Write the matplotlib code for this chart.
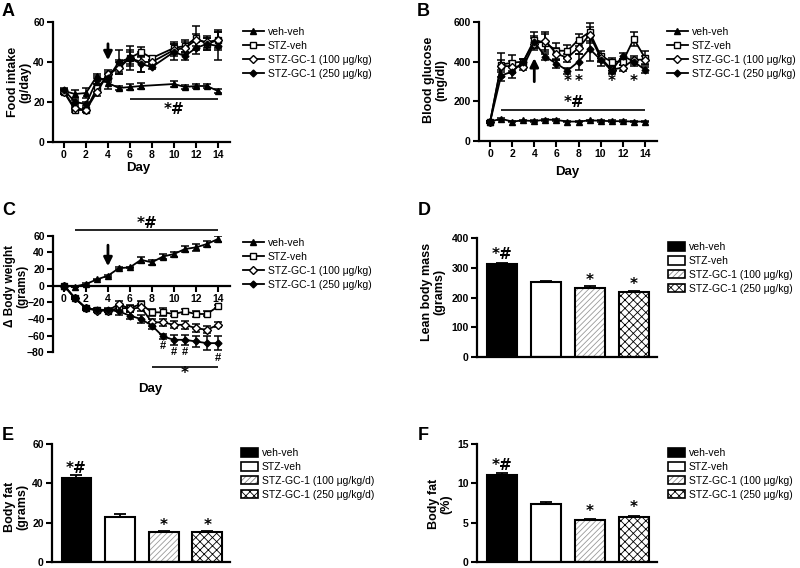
import matplotlib
matplotlib.use('Agg')
import matplotlib.pyplot as plt
from matplotlib.lines import Line2D
from matplotlib.patches import Patch

plt.rcParams['font.family'] = ['Liberation Sans', 'DejaVu Sans']
plt.rcParams['hatch.linewidth'] = 0.6

# ---- data ----
groups = ['veh-veh', 'STZ-veh', 'STZ-GC-1 (100 \u03bcg/kg)', 'STZ-GC-1 (250 \u03bcg/kg)']
groups_d = ['veh-veh', 'STZ-veh', 'STZ-GC-1 (100 \u03bcg/kg/d)', 'STZ-GC-1 (250 \u03bcg/kg/d)']

# A: food intake (g/day)
days_A = [0, 1, 2, 3, 4, 5, 6, 7, 8, 10, 11, 12, 13, 14]
days_A_veh = [0, 1, 2, 3, 4, 5, 6, 7, 10, 11, 12, 13, 14]
A_veh = [25.5, 24, 24.5, 33, 29.5, 27, 27.5, 28, 29, 27.5, 28, 28, 25.5]
A_veh_err = [1, 2, 2.5, 1, 3, 1, 1.5, 1.5, 1.5, 1, 1, 1, 1]
A_stz = [25, 16, 16, 27, 33, 38, 42, 45, 42, 47, 48, 52, 49, 51]
A_stz_err = [1, 1, 1, 2, 2, 3, 3, 2.5, 1, 3, 3, 6, 3, 5]
A_100 = [25, 17, 16, 25, 34, 37, 42, 40, 40, 46, 47, 51, 50, 51]
A_100_err = [1, 1, 1, 2, 2, 3, 4, 5, 1, 3, 3, 3, 3, 4]
A_250 = [26, 20, 19, 31, 32, 40, 42, 39, 37.5, 45, 43, 47, 49, 48]
A_250_err = [1, 1, 1, 2, 2, 6, 6, 4, 1, 4, 2, 3, 3, 7]

# B: blood glucose (mg/dl)
days_B = list(range(15))
B_veh = [98, 112, 98, 104, 100, 108, 106, 98, 98, 104, 102, 100, 100, 98, 98]
B_veh_err = [5, 5, 4, 4, 4, 5, 5, 4, 4, 4, 4, 4, 4, 4, 4]
B_stz = [95, 385, 395, 400, 510, 495, 455, 455, 510, 550, 430, 400, 400, 515, 420]
B_stz_err = [5, 60, 40, 15, 40, 45, 40, 30, 30, 45, 25, 20, 15, 35, 35]
B_100 = [95, 380, 375, 375, 490, 505, 440, 420, 470, 535, 420, 360, 370, 410, 410]
B_100_err = [5, 30, 30, 15, 30, 45, 30, 20, 30, 40, 20, 15, 15, 20, 20]
B_250 = [95, 330, 350, 400, 500, 425, 390, 355, 400, 465, 410, 355, 430, 400, 360]
B_250_err = [5, 30, 30, 15, 30, 15, 20, 15, 40, 60, 30, 15, 15, 20, 15]

# C: change in body weight (grams)
days_C = list(range(15))
C_veh = [0, -1, 2, 7.5, 12, 21, 22, 31, 28, 35, 38, 44, 46, 50, 56]
C_veh_err = [0, 0, 1, 1, 1, 1, 1, 4, 3, 3, 3, 4, 4, 4, 4]
C_stz = [0, -15, -27, -29, -30, -27, -27, -22, -32, -32, -34, -31, -34, -34, -25]
C_stz_err = [0, 1, 2, 2, 2, 3, 4, 3, 4, 5, 3, 3, 4, 3, 2]
C_100 = [0, -15, -27, -30, -30, -22, -28, -26, -44, -44, -47, -47, -51, -53, -47]
C_100_err = [0, 1, 2, 2, 2, 3, 4, 4, 4, 4, 4, 5, 5, 4, 3]
C_250 = [0, -15, -27, -29, -29, -31, -36, -40, -48, -61, -65, -65, -67, -69, -69]
C_250_err = [0, 1, 1, 1, 2, 4, 4, 5, 4, 3, 6, 6, 7, 8, 8]

# D-F: bar panels
D_vals = [312, 251, 232, 218]
D_err = [5, 4, 5, 5]
E_vals = [42.5, 23, 15.2, 15.3]
E_err = [1.8, 1.2, 0.5, 0.5]
F_vals = [11.0, 7.35, 5.3, 5.7]
F_err = [0.3, 0.3, 0.15, 0.2]
bar_marks = ['*#', '', '*', '*']

W, H = 800, 568
fig = plt.figure(figsize=(W / 100, H / 100), dpi=100)
MARK = dict(fontsize=11, fontweight='bold', family=['DejaVu Sans'])


def add_ax(l, t, r, b):
    return fig.add_axes([l / W, 1 - b / H, (r - l) / W, (b - t) / H])


def style(ax):
    ax.spines['top'].set_visible(False)
    ax.spines['right'].set_visible(False)
    for s in ['left', 'bottom']:
        ax.spines[s].set_linewidth(1.6)
    ax.tick_params(width=1.5, length=4, labelsize=7.5, pad=2)
    for lab in ax.get_xticklabels() + ax.get_yticklabels():
        lab.set_fontweight('bold')


line_styles = [
    dict(marker='^', mfc='black', ms=5),
    dict(marker='s', mfc='white', ms=4.5),
    dict(marker='D', mfc='white', ms=4.5),
    dict(marker='D', mfc='black', ms=3.5),
]


def line_panel(ax, xs, ys, errs):
    for x, y, e, st in zip(xs, ys, errs, line_styles):
        ax.errorbar(x, y, yerr=e, fmt='none', ecolor='black', elinewidth=1.1,
                    capsize=3, capthick=1.1)
    handles = []
    for x, y, st, lab in zip(xs, ys, line_styles, groups):
        ax.plot(x, y, color='black', lw=1.3, mec='black', mew=1, **st)
        handles.append(Line2D([], [], color='black', lw=1.3, mec='black', mew=1, **st))
    ax.set_xlim(-1, 15.1)
    ax.set_xticks(range(0, 15, 2))
    return handles


def line_legend(ax, handles, x, y):
    ax.legend(handles, groups, loc='upper left', bbox_to_anchor=(x / W, 1 - y / H),
              bbox_transform=fig.transFigure, frameon=False, fontsize=7.5,
              handlelength=2.0, labelspacing=0.38, handletextpad=0.4,
              borderpad=0, borderaxespad=0)


# ---- A ----
axA = add_ax(53, 22, 230, 142)
hA = line_panel(axA, [days_A_veh, days_A, days_A, days_A],
                [A_veh, A_stz, A_100, A_250],
                [A_veh_err, A_stz_err, A_100_err, A_250_err])
axA.set_ylim(0, 60)
axA.set_yticks([0, 20, 40, 60])
axA.annotate('', xy=(4, 39.5), xytext=(4, 50.5),
             arrowprops=dict(arrowstyle='-|>,head_width=0.25,head_length=0.5', lw=2, color='black'))
axA.hlines(21.3, 6, 14, color='black', lw=1.2)
axA.text(10, 16, '*#', ha='center', va='center', **MARK)
style(axA)
line_legend(axA, hA, 243, 27)

# ---- B ----
axB = add_ax(479, 22, 657, 141)
hB = line_panel(axB, [days_B] * 4, [B_veh, B_stz, B_100, B_250],
                [B_veh_err, B_stz_err, B_100_err, B_250_err])
axB.set_ylim(0, 600)
axB.set_yticks([0, 200, 400, 600])
axB.annotate('', xy=(4, 432), xytext=(4, 285),
             arrowprops=dict(arrowstyle='-|>,head_width=0.25,head_length=0.5', lw=2, color='black'))
axB.hlines(157, 1, 14, color='black', lw=1.2)
axB.text(7.6, 196, '*#', ha='center', va='center', **MARK)
for d in [7, 8, 11, 13]:
    axB.text(d, 300, '*', ha='center', va='center', **MARK)
style(axB)
line_legend(axB, hB, 667, 27)

# ---- C ----
axC = add_ax(53, 235.7, 230, 352.3)
hC = line_panel(axC, [days_C] * 4, [C_veh, C_stz, C_100, C_250],
                [C_veh_err, C_stz_err, C_100_err, C_250_err])
axC.set_ylim(-80, 60)
axC.set_yticks(range(-80, 61, 20))
axC.spines['bottom'].set_position(('data', 0))
axC.annotate('', xy=(4, 20), xytext=(4, 52),
             arrowprops=dict(arrowstyle='-|>,head_width=0.25,head_length=0.5', lw=2, color='black'))
axC.hlines(67, 1, 14, color='black', lw=1.2, clip_on=False)
axC.text(7.6, 75, '*#', ha='center', va='center', **MARK)
for d, yy in zip([9, 10, 11, 14], [-73, -80, -80, -87]):
    axC.text(d, yy, '#', ha='center', va='center', fontsize=8, fontweight='bold')
axC.hlines(-97.5, 8, 14, color='black', lw=1.2, clip_on=False)
axC.text(11, -106, '*', ha='center', va='center', **MARK)
style(axC)
line_legend(axC, hC, 243, 238)

fig.text(138 / W, 1 - 168 / H, 'Day', ha='center', va='center', fontsize=9.5, fontweight='bold')
fig.text(567 / W, 1 - 172 / H, 'Day', ha='center', va='center', fontsize=9.5, fontweight='bold')
fig.text(150 / W, 1 - 389 / H, 'Day', ha='center', va='center', fontsize=9.5, fontweight='bold')


# ---- bar panels ----
def bar_panel(ax, vals, errs, ymax, yticks, marks, mark_y, labels, lx, ly):
    xs = list(range(len(vals)))
    w = 0.68
    ax.bar(xs[0], vals[0], w, color='black', edgecolor='black', lw=1.5)
    ax.bar(xs[1], vals[1], w, color='white', edgecolor='black', lw=1.5)
    ax.bar(xs[2], vals[2], w, color='white', edgecolor='#999999', hatch='//////', lw=0)
    ax.bar(xs[2], vals[2], w, fill=False, edgecolor='black', lw=1.5)
    ax.bar(xs[3], vals[3], w, color='white', edgecolor='black', hatch='xxxx', lw=0)
    ax.bar(xs[3], vals[3], w, fill=False, edgecolor='black', lw=1.5)
    ax.errorbar(xs, vals, yerr=[[0] * len(vals), errs], fmt='none', ecolor='black',
                elinewidth=1.3, capsize=4, capthick=1.3)
    for x, m, yy in zip(xs, marks, mark_y):
        ax.text(x, yy, m, ha='center', va='center', **MARK)
    ax.set_xlim(-0.56, 3.52)
    ax.set_ylim(0, ymax)
    ax.set_yticks(yticks)
    ax.set_xticks([])
    style(ax)
    edge = Patch(fill=False, edgecolor='black', lw=1.2)
    handles = [Patch(facecolor='black', edgecolor='black', lw=1.2),
               Patch(facecolor='white', edgecolor='black', lw=1.2),
               (Patch(facecolor='white', edgecolor='#888888', hatch='//////', lw=0), edge),
               (Patch(facecolor='white', edgecolor='black', hatch='xxxx', lw=0), edge)]
    ax.legend(handles, labels, loc='upper left', bbox_to_anchor=(lx / W, 1 - ly / H),
              bbox_transform=fig.transFigure, frameon=False, fontsize=7.5,
              handlelength=1.6, handleheight=0.85, labelspacing=0.38,
              handletextpad=0.4, borderpad=0, borderaxespad=0)


axD = add_ax(477, 238, 657, 357)
bar_panel(axD, D_vals, D_err, 400, [0, 100, 200, 300, 400], bar_marks,
          [345, 0, 258, 243], groups, 668, 242)

axE = add_ax(52, 444, 230, 562)
bar_panel(axE, E_vals, E_err, 60, [0, 20, 40, 60], bar_marks,
          [47.5, 0, 18.5, 18.5], groups_d, 241, 448)

axF = add_ax(477, 444, 657, 562)
bar_panel(axF, F_vals, F_err, 15, [0, 5, 10, 15], bar_marks,
          [12.3, 0, 6.4, 6.9], groups, 668, 448)

# ---- axis titles ----
ylab = dict(rotation=90, ha='center', va='center', fontsize=9, fontweight='bold',
            multialignment='center', linespacing=1.05)
fig.text(19 / W, 1 - 82 / H, 'Food intake\n(g/day)', **ylab)
fig.text(435 / W, 1 - 80 / H, 'Blood glucose\n(mg/dl)', **ylab)
fig.text(16 / W, 1 - 286 / H, '\u0394 Body weight\n(grams)',
         **dict(ylab, fontsize=8.5, linespacing=1.0))
fig.text(433 / W, 1 - 292 / H, 'Lean body mass\n(grams)', **ylab)
fig.text(16 / W, 1 - 507 / H, 'Body fat\n(grams)', **ylab)
fig.text(440 / W, 1 - 504 / H, 'Body fat\n(%)', **ylab)

# ---- panel letters ----
for lab, x, y in [('A', 2, 3), ('B', 417, 3), ('C', 2, 202), ('D', 418, 202),
                  ('E', 2, 427), ('F', 418, 427)]:
    fig.text(x / W, 1 - y / H, lab, ha='left', va='top', fontsize=13, fontweight='bold')

fig.savefig('out.png', dpi=100)
